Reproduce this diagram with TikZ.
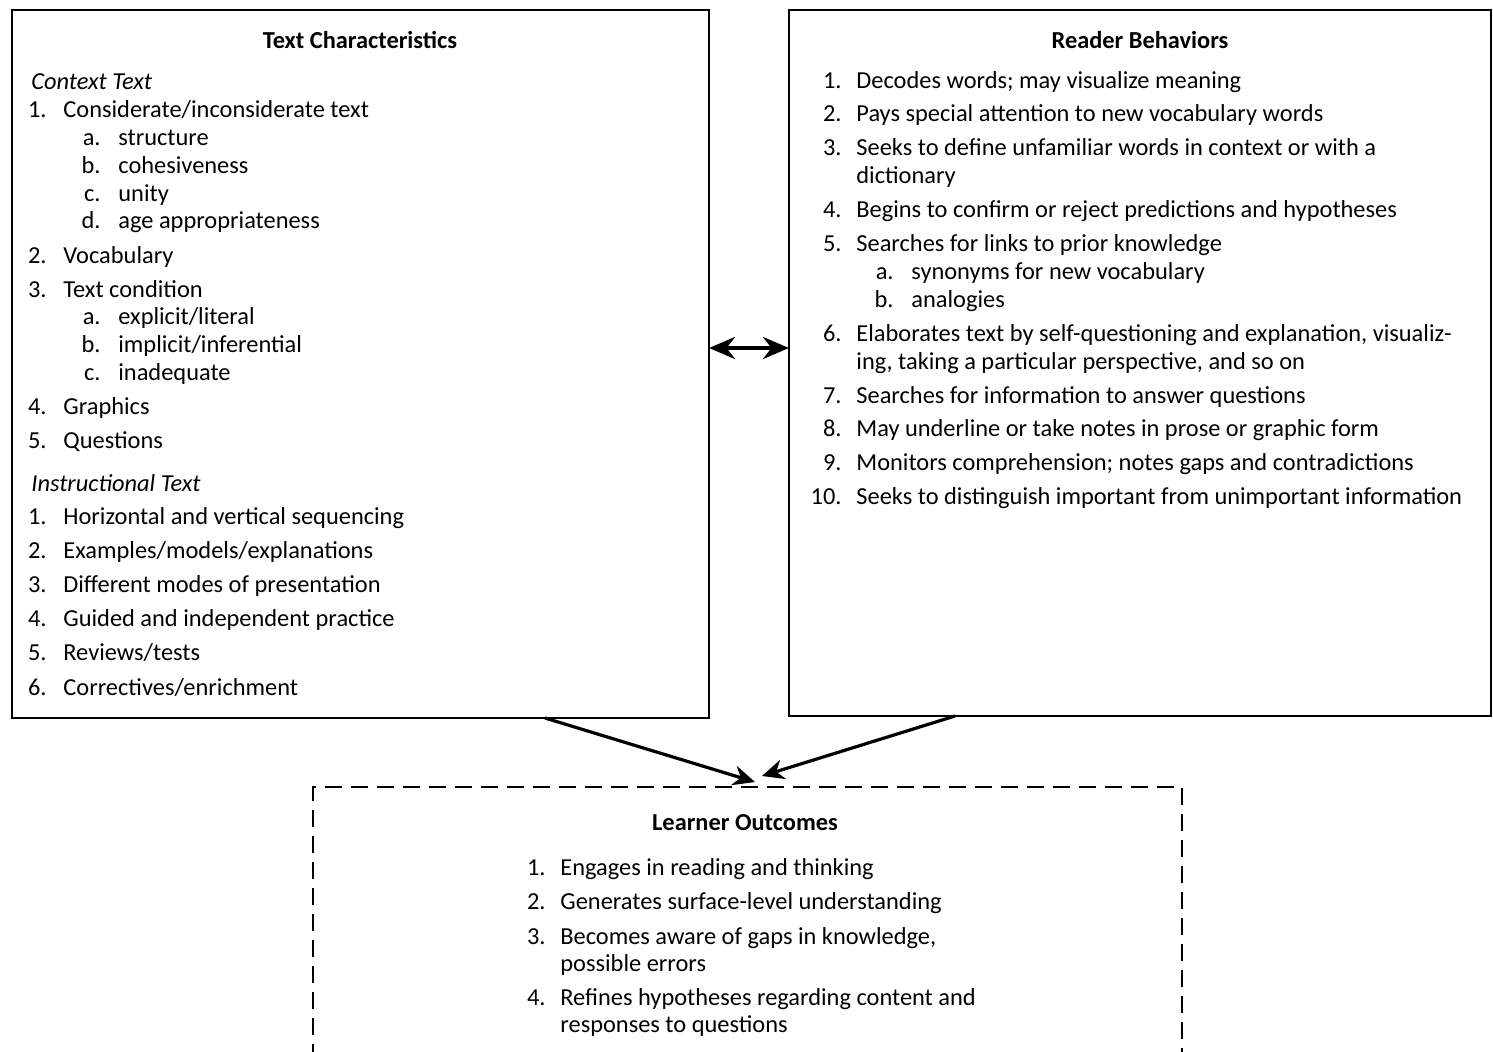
\documentclass[tikz,border=0pt]{standalone}
\usepackage{fontspec}
\setmainfont{Carlito}
\usetikzlibrary{arrows.meta,fit}
\newcommand{\bodyfnt}{\fontsize{12.2pt}{13.5pt}\selectfont}
\tikzset{
  frame/.style={draw, line width=1.4pt, inner sep=0pt, fit=#1},
  dframe/.style={draw, line width=1.1pt, dash pattern=on 8.5pt off 4.5pt, inner sep=0pt, fit=#1},
  body/.style={anchor=base west, inner sep=0pt, font=\bodyfnt},
  num/.style={anchor=base east, inner sep=0pt, font=\bodyfnt},
  ttl/.style={anchor=base, inner sep=0pt, font=\bodyfnt\bfseries},
  sub/.style={anchor=base west, inner sep=0pt, font=\bodyfnt\itshape},
  link/.style={line width=1.6pt, -{Stealth[length=11pt,width=10pt]}},
  dlink/.style={line width=2pt, {Stealth[length=13pt,width=11pt]}-{Stealth[length=13pt,width=11pt]}},
}
\begin{document}
\begin{tikzpicture}[x=0.5pt,y=-0.5pt]
\useasboundingbox (0,0) rectangle (1493,1051);
\clip (0,0) rectangle (1493,1051);
\fill[white] (0,0) rectangle (1493,1051);

% frames
\coordinate (tcA) at (12,10);   \coordinate (tcB) at (709,718);
\coordinate (rbA) at (789,10);  \coordinate (rbB) at (1491,716);
\coordinate (loA) at (313,787); \coordinate (loB) at (1182,1080);
\node[frame={(tcA)(tcB)}] (tc) {};
\node[frame={(rbA)(rbB)}] (rb) {};
\node[dframe={(loA)(loB)}] (lo) {};

% Text Characteristics
\node[ttl] (tct) at (360,48) {Text Characteristics};
\node[sub] (tcs1) at (31,89) {Context Text};
\node[num] (tn1) at (47,117) {1.}; \node[body] (tx1) at (63,117) {Considerate/inconsiderate text};
\node[num] (tn1a) at (101,145) {a.}; \node[body] (tx1a) at (118,145) {structure};
\node[num] (tn1b) at (101,173) {b.}; \node[body] (tx1b) at (118,173) {cohesiveness};
\node[num] (tn1c) at (101,201) {c.}; \node[body] (tx1c) at (118,201) {unity};
\node[num] (tn1d) at (101,228) {d.}; \node[body] (tx1d) at (118,228) {age appropriateness};
\node[num] (tn2) at (47,263) {2.}; \node[body] (tx2) at (63,263) {Vocabulary};
\node[num] (tn3) at (47,297) {3.}; \node[body] (tx3) at (63,297) {Text condition};
\node[num] (tn3a) at (101,324) {a.}; \node[body] (tx3a) at (118,324) {explicit/literal};
\node[num] (tn3b) at (101,352) {b.}; \node[body] (tx3b) at (118,352) {implicit/inferential};
\node[num] (tn3c) at (101,380) {c.}; \node[body] (tx3c) at (118,380) {inadequate};
\node[num] (tn4) at (47,414) {4.}; \node[body] (tx4) at (63,414) {Graphics};
\node[num] (tn5) at (47,448) {5.}; \node[body] (tx5) at (63,448) {Questions};
\node[sub] (tcs2) at (31,491) {Instructional Text};
\node[num] (tm1) at (47,524) {1.}; \node[body] (ty1) at (63,524) {Horizontal and vertical sequencing};
\node[num] (tm2) at (47,558) {2.}; \node[body] (ty2) at (63,558) {Examples/models/explanations};
\node[num] (tm3) at (47,592) {3.}; \node[body] (ty3) at (63,592) {Different modes of presentation};
\node[num] (tm4) at (47,626) {4.}; \node[body] (ty4) at (63,626) {Guided and independent practice};
\node[num] (tm5) at (47,660) {5.}; \node[body] (ty5) at (63,660) {Reviews/tests};
\node[num] (tm6) at (47,695) {6.}; \node[body] (ty6) at (63,695) {Correctives/enrichment};

% Reader Behaviors
\node[ttl] (rbt) at (1140,48) {Reader Behaviors};
\node[num] (rn1) at (842,88) {1.}; \node[body] (rx1) at (856,88) {Decodes words; may visualize meaning};
\node[num] (rn2) at (842,121) {2.}; \node[body] (rx2) at (856,121) {Pays special attention to new vocabulary words};
\node[num] (rn3) at (842,155) {3.}; \node[body] (rx3) at (856,155) {Seeks to define unfamiliar words in context or with a};
\node[body] (rx3b) at (856,183) {dictionary};
\node[num] (rn4) at (842,217) {4.}; \node[body] (rx4) at (856,217) {Begins to confirm or reject predictions and hypotheses};
\node[num] (rn5) at (842,251) {5.}; \node[body] (rx5) at (856,251) {Searches for links to prior knowledge};
\node[num] (rn5a) at (894,279) {a.}; \node[body] (rx5a) at (911,279) {synonyms for new vocabulary};
\node[num] (rn5b) at (894,307) {b.}; \node[body] (rx5b) at (911,307) {analogies};
\node[num] (rn6) at (842,341) {6.}; \node[body] (rx6) at (856,341) {Elaborates text by self-questioning and explanation, visualiz-};
\node[body] (rx6b) at (856,369) {ing, taking a particular perspective, and so on};
\node[num] (rn7) at (842,403) {7.}; \node[body] (rx7) at (856,403) {Searches for information to answer questions};
\node[num] (rn8) at (842,436) {8.}; \node[body] (rx8) at (856,436) {May underline or take notes in prose or graphic form};
\node[num] (rn9) at (842,470) {9.}; \node[body] (rx9) at (856,470) {Monitors comprehension; notes gaps and contradictions};
\node[num] (rn10) at (842,504) {10.}; \node[body] (rx10) at (856,504) {Seeks to distinguish important from unimportant information};

% Learner Outcomes
\node[ttl] (lot) at (745,830) {Learner Outcomes};
\node[num] (ln1) at (546,875) {1.}; \node[body] (lx1) at (560,875) {Engages in reading and thinking};
\node[num] (ln2) at (546,909) {2.}; \node[body] (lx2) at (560,909) {Generates surface-level understanding};
\node[num] (ln3) at (546,944) {3.}; \node[body] (lx3) at (560,944) {Becomes aware of gaps in knowledge,};
\node[body] (lx3b) at (560,971) {possible errors};
\node[num] (ln4) at (546,1005) {4.}; \node[body] (lx4) at (560,1005) {Refines hypotheses regarding content and};
\node[body] (lx4b) at (560,1032) {responses to questions};

% connectors
\coordinate (tcR) at (709,348); \coordinate (rbL) at (789,348);
\draw[dlink] (tcR) -- (rbL);
\coordinate (tcF) at (545,718); \coordinate (rbF) at (955,716);
\coordinate (loL) at (755,782); \coordinate (loR) at (762,776);
\draw[link] (tcF) -- (loL);
\draw[link] (rbF) -- (loR);
\end{tikzpicture}
\end{document}
